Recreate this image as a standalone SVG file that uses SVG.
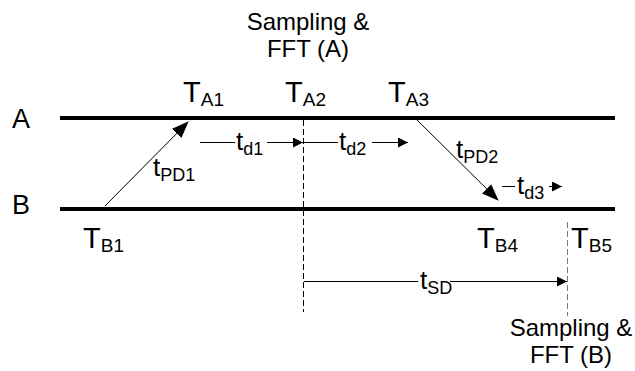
<svg xmlns="http://www.w3.org/2000/svg" width="635" height="371" viewBox="0 0 635 371">
<defs>
<style>
text{font-family:"Liberation Sans",Arial,sans-serif;fill:#000}
.big{font-size:27px}
.T{font-size:29px}
.sub{font-size:19px}
.t{font-size:26px}
.ts{font-size:18px}
.cap{font-size:24px;text-anchor:middle}
.axis{stroke:#000;stroke-width:4;fill:none}
.dash{stroke:#000;stroke-width:1;stroke-dasharray:6,3;fill:none}
.dash2{stroke:#777;stroke-width:1;stroke-dasharray:6,3;fill:none}
.arr{stroke:#000;stroke-width:1;fill:none}
</style>
<marker id="big" markerWidth="17" markerHeight="13" refX="16" refY="6.5" orient="auto" markerUnits="userSpaceOnUse"><path d="M0,0 L17,6.5 L0,13 Z" fill="#000"/></marker>
<marker id="sm" markerWidth="10" markerHeight="10" refX="10" refY="5" orient="auto" markerUnits="userSpaceOnUse"><path d="M0,0 L10,5 L0,10 Z" fill="#000"/></marker>
</defs>
<g id="lineA"><line class="axis" x1="60" y1="118" x2="615" y2="118"/><text class="big" x="12" y="128">A</text></g>
<g id="lineB"><line class="axis" x1="60" y1="209" x2="615" y2="209"/><text class="big" x="12" y="214">B</text></g>
<g id="samplingA"><text class="cap" x="308" y="30">Sampling &amp;</text><text class="cap" x="308" y="57">FFT (A)</text></g>
<g id="samplingB"><text class="cap" x="571" y="336">Sampling &amp;</text><text class="cap" x="571" y="363">FFT (B)</text></g>
<g id="TA1"><text x="183" y="102"><tspan class="T">T</tspan><tspan class="sub" dy="4">A1</tspan></text></g>
<g id="TA2"><text x="285" y="102"><tspan class="T">T</tspan><tspan class="sub" dy="4">A2</tspan></text></g>
<g id="TA3"><text x="388" y="102"><tspan class="T">T</tspan><tspan class="sub" dy="4">A3</tspan></text></g>
<g id="TB1"><text x="83" y="248"><tspan class="T">T</tspan><tspan class="sub" dy="4">B1</tspan></text></g>
<g id="TB4"><text x="477" y="248"><tspan class="T">T</tspan><tspan class="sub" dy="4">B4</tspan></text></g>
<g id="TB5"><text x="571" y="248"><tspan class="T">T</tspan><tspan class="sub" dy="4">B5</tspan></text></g>
<g id="connectors">
<line class="dash" x1="303.5" y1="120" x2="303.5" y2="312"/>
<line class="dash2" x1="567.5" y1="222" x2="567.5" y2="316"/>
<line class="arr" x1="105" y1="206" x2="188" y2="122" marker-end="url(#big)"/>
<line class="arr" x1="417" y1="120" x2="498" y2="200" marker-end="url(#big)"/>
<line class="arr" x1="200" y1="142.5" x2="235" y2="142.5"/>
<line class="arr" x1="267" y1="142.5" x2="303" y2="142.5" marker-end="url(#sm)"/>
<line class="arr" x1="304" y1="142.5" x2="338" y2="142.5"/>
<line class="arr" x1="372" y1="142.5" x2="408" y2="142.5" marker-end="url(#sm)"/>
<line class="arr" x1="502" y1="186.5" x2="515" y2="186.5"/>
<line class="arr" x1="549" y1="186.5" x2="562" y2="186.5" marker-end="url(#sm)"/>
<line class="arr" x1="304" y1="281.5" x2="418" y2="281.5"/>
<line class="arr" x1="450" y1="281.5" x2="567" y2="281.5" marker-end="url(#sm)"/>
</g>
<g id="td1"><text x="236" y="150"><tspan class="t">t</tspan><tspan class="ts" dy="5">d1</tspan></text></g>
<g id="td2"><text x="339" y="150"><tspan class="t">t</tspan><tspan class="ts" dy="5">d2</tspan></text></g>
<g id="td3"><text x="517" y="194"><tspan class="t">t</tspan><tspan class="ts" dy="5">d3</tspan></text></g>
<g id="tPD1"><text x="153" y="176"><tspan class="t">t</tspan><tspan class="ts" dy="5">PD1</tspan></text></g>
<g id="tPD2"><text x="456" y="158"><tspan class="t">t</tspan><tspan class="ts" dy="5">PD2</tspan></text></g>
<g id="tSD"><text x="420" y="289"><tspan class="t">t</tspan><tspan class="ts" dy="5">SD</tspan></text></g>
</svg>
